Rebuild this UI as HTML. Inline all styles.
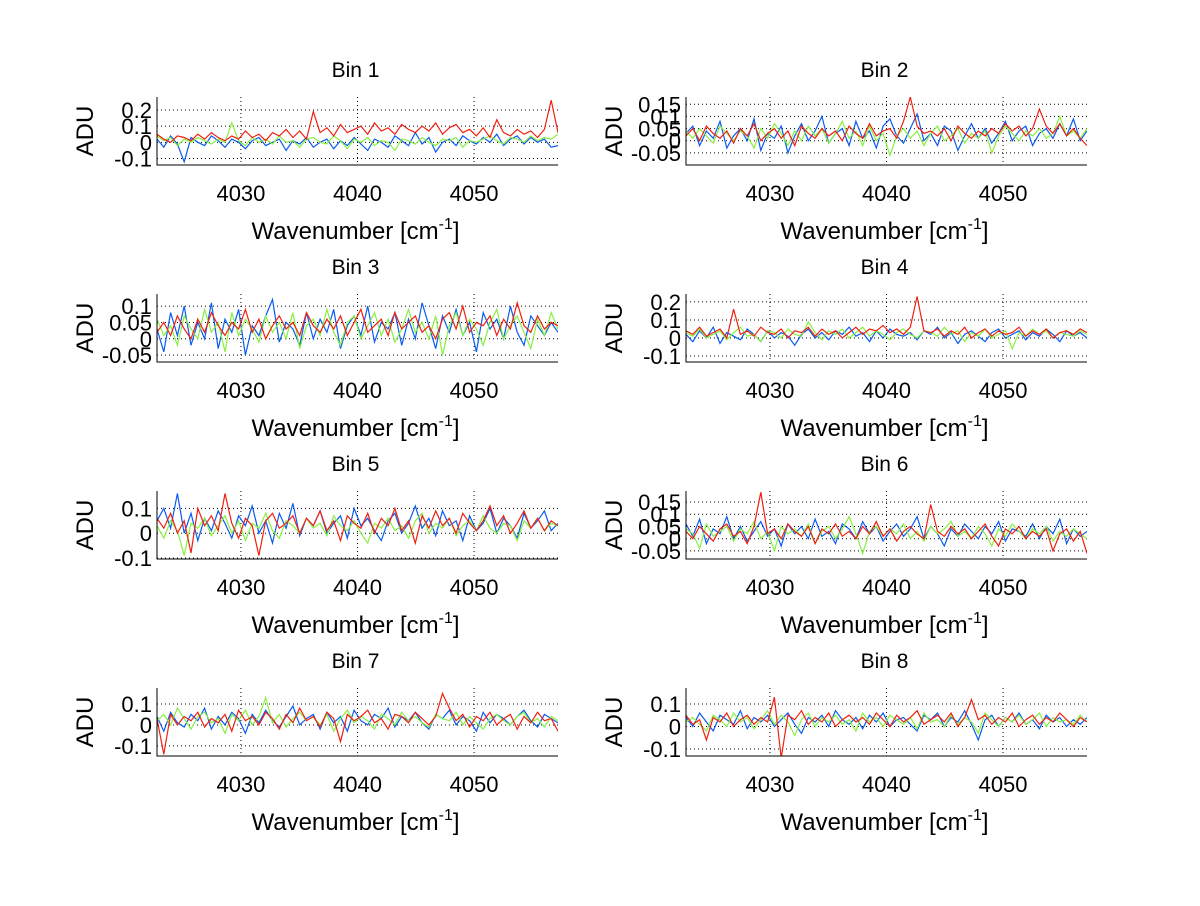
<!DOCTYPE html>
<html><head><meta charset="utf-8"><style>
body{margin:0;background:#fff}
svg text{font-family:"Liberation Sans",sans-serif;fill:#000}
</style></head><body>
<svg id="fig" width="1200" height="901" viewBox="0 0 1200 901" xmlns="http://www.w3.org/2000/svg"></svg>
<script>
const xDomain=[4022.8,4057.2];
const xTicks=[4030,4040,4050];
const binTitles=["Bin 1","Bin 2","Bin 3","Bin 4","Bin 5","Bin 6","Bin 7","Bin 8"];
const yLims=[[-0.14,0.28],[-0.10,0.18],[-0.071,0.137],[-0.133,0.244],[-0.104,0.17],[-0.083,0.195],[-0.148,0.176],[-0.131,0.171]];
const yTicks=[[0.2,0.1,0,-0.1],[0.15,0.1,0.05,0,-0.05],[0.1,0.05,0,-0.05],[0.2,0.1,0,-0.1],[0.1,0,-0.1],[0.15,0.1,0.05,0,-0.05],[0.1,0,-0.1],[0.1,0,-0.1]];
const seriesColors=["#0a5cf0","#88f040","#f02010"];
// values in hundredths of ADU; [bin][series blue,green,red]
const bin1Blue=[2,-3,4,-1,-12,3,0,-2,4,1,-3,2,0,-4,1,3,-2,0,2,-5,1,-1,3,-3,0,2,-4,1,-2,3,-1,-5,2,0,-3,4,1,-2,6,-1,3,-6,0,2,-2,4,1,-1,3,0,5,-2,2,4,-1,3,0,2,-3,-2];
const bin1Green=[4,1,3,-2,2,0,3,1,-1,2,0,12,1,-2,3,0,2,-1,4,0,1,-3,2,3,0,-1,4,1,-4,2,0,3,-2,1,0,-5,2,1,-1,3,0,-2,2,1,3,-3,1,0,2,4,1,-1,3,2,0,4,1,3,2,5];
const bin1Red=[5,2,0,4,3,1,5,2,6,3,1,4,2,7,3,5,1,6,4,8,3,7,2,19,6,9,4,11,6,8,10,5,12,7,9,5,11,8,6,10,7,12,5,9,11,6,8,4,9,3,14,6,4,8,5,7,3,8,26,6];
const bin2Blue=[3,6,-2,4,1,8,-3,2,5,0,9,-4,3,1,6,-5,2,7,0,4,10,-1,3,5,-2,8,1,4,-3,6,9,2,-1,5,11,0,3,-2,6,4,-4,2,7,1,5,-1,3,8,0,4,6,-2,3,5,1,7,2,9,0,4];
const bin2Green=[4,1,5,2,-1,6,3,0,4,2,-3,5,1,7,3,-2,4,0,6,2,5,-1,3,8,1,4,-2,6,0,3,-6,2,5,1,4,-2,3,6,0,2,5,-1,3,1,4,-5,2,6,3,0,4,2,5,1,3,10,2,4,1,5];
const bin2Red=[2,5,0,6,3,1,4,-1,5,2,7,0,3,5,1,4,-2,6,3,1,5,2,4,0,6,3,1,7,2,4,5,1,8,18,6,3,4,2,5,0,6,3,1,4,2,5,3,7,4,6,2,5,13,6,3,7,2,5,1,-2];
const bin3Blue=[3,-4,8,1,10,-2,5,0,11,-3,6,2,9,-5,4,1,7,12,-1,5,3,-2,8,0,6,2,9,-3,4,7,1,10,-1,5,3,8,-2,6,0,11,4,-3,7,2,9,1,5,-4,8,3,6,0,10,2,-2,7,4,1,5,2];
const bin3Green=[6,1,4,-2,7,3,0,9,2,5,-4,8,1,6,3,-1,7,2,5,0,8,-3,4,6,1,9,2,-2,5,7,0,4,8,1,6,-1,3,9,2,5,0,7,-5,4,8,1,6,3,-2,5,9,0,4,7,2,-3,6,1,8,3];
const bin3Red=[2,5,1,7,3,0,6,2,8,4,1,5,3,9,2,6,0,4,7,3,5,1,8,4,2,6,3,7,1,5,9,2,4,6,1,8,3,5,7,2,4,0,6,8,3,10,2,5,4,7,1,6,3,11,4,2,7,3,5,4];
const bin4Blue=[2,-2,4,0,6,-3,3,1,-1,5,2,-2,4,0,3,1,-4,2,5,0,3,-1,4,2,6,1,3,-2,4,0,5,2,1,3,-1,4,2,6,0,3,-3,2,4,1,-2,3,5,0,2,4,-1,3,1,5,2,-2,4,1,3,0];
const bin4Green=[3,1,5,0,2,4,-1,3,6,1,2,-2,4,3,0,5,2,1,9,3,-1,4,2,5,0,3,6,1,4,2,-1,3,5,2,0,4,3,1,6,2,4,-2,3,1,5,0,2,4,-6,3,1,5,2,4,0,3,2,1,4,2];
const bin4Red=[4,2,6,1,3,5,0,16,2,4,1,6,3,2,5,0,4,3,6,1,5,2,4,0,3,6,2,5,4,7,3,5,2,6,23,4,3,5,1,4,2,6,0,3,5,1,4,2,3,6,1,4,2,5,0,3,4,2,5,3];
const bin5Blue=[5,10,2,16,0,8,-3,6,1,9,4,-2,7,3,11,0,5,-4,8,2,12,-1,6,3,9,0,4,7,-2,10,3,6,1,-3,5,8,0,4,11,2,6,-1,9,3,5,-3,7,1,4,10,0,6,3,-2,8,2,5,9,1,4];
const bin5Green=[3,-2,5,1,-9,4,2,6,-1,3,7,0,5,-3,4,2,8,1,-2,5,3,0,6,2,4,-1,7,3,1,5,0,-4,4,2,6,1,3,-2,5,8,0,4,2,6,-1,3,5,1,7,2,0,4,3,-3,5,2,6,1,4,3];
const bin5Red=[6,2,8,0,5,-8,10,3,7,1,16,4,-2,6,3,-9,5,8,2,4,7,0,6,3,9,1,5,-3,7,4,2,8,0,6,3,10,1,5,-4,7,2,9,3,6,0,8,4,1,5,11,3,7,0,4,9,2,6,1,5,3];
const bin6Blue=[6,1,8,-2,4,2,9,0,5,-1,3,7,1,4,-3,6,2,5,0,8,1,3,-2,6,4,0,7,2,5,-1,3,6,1,4,9,0,5,2,-3,4,1,6,3,0,5,2,7,-1,4,3,1,6,0,5,2,8,-2,4,1,3];
const bin6Green=[4,2,-4,6,1,3,5,-1,4,2,7,0,3,-5,5,2,4,1,6,-2,3,5,0,4,9,2,-6,3,5,1,4,2,6,0,3,-1,5,2,4,7,1,3,0,5,2,-3,4,1,6,3,0,4,2,5,-1,3,1,4,2,0];
const bin6Red=[3,0,5,2,-1,4,6,1,3,-2,5,19,2,4,0,6,3,1,5,-2,4,2,6,1,3,0,5,2,7,1,4,-1,3,5,2,0,14,3,1,5,2,4,0,3,6,1,-3,4,2,5,0,3,1,4,-5,2,4,-1,3,-6];
const bin7Blue=[4,-3,6,1,-1,5,2,8,-2,4,0,6,3,-4,5,1,7,2,-1,4,9,0,3,5,-2,6,1,4,-3,7,2,0,5,3,8,-1,4,2,6,1,-2,5,3,7,0,4,2,-3,6,1,5,3,0,4,7,2,-1,5,3,1];
const bin7Green=[2,5,0,8,3,-2,4,6,1,3,-4,5,2,7,0,4,13,1,5,-1,3,6,2,4,0,5,-3,3,7,1,4,2,-2,5,3,0,6,2,4,1,-1,5,3,2,6,0,4,1,-2,3,5,2,0,4,6,1,3,-1,4,2];
const bin7Red=[3,-14,5,0,4,2,6,-1,3,1,5,-3,7,2,4,0,6,3,-2,5,1,8,2,4,-1,6,3,-8,5,2,4,7,1,3,-2,5,4,1,6,3,0,4,15,8,2,5,-1,4,2,6,0,3,5,-2,4,1,6,2,3,-3];
const bin8Blue=[4,0,6,2,-2,5,3,1,7,-1,4,2,5,0,3,6,1,-3,4,2,5,0,7,3,1,4,-1,5,2,6,0,3,4,1,-2,5,3,6,0,4,2,7,1,-6,3,5,0,4,2,6,1,3,-1,5,2,4,0,3,1,4];
const bin8Green=[2,4,1,-2,5,3,0,6,2,4,-1,3,7,1,5,2,-4,3,6,0,4,2,5,1,3,-2,6,2,4,0,5,3,1,4,-1,6,2,3,0,5,1,4,2,-3,6,3,0,4,2,5,1,3,6,0,4,2,3,1,5,2];
const bin8Red=[5,1,3,-6,4,2,6,0,3,5,1,4,2,13,-14,5,3,7,1,4,2,6,0,3,5,2,4,1,6,3,0,5,2,4,7,1,3,5,2,6,0,4,12,3,5,1,4,2,6,0,3,5,1,4,2,6,3,0,4,2];
const allBins=[[bin1Blue,bin1Green,bin1Red],[bin2Blue,bin2Green,bin2Red],[bin3Blue,bin3Green,bin3Red],[bin4Blue,bin4Green,bin4Red],[bin5Blue,bin5Green,bin5Red],[bin6Blue,bin6Green,bin6Red],[bin7Blue,bin7Green,bin7Red],[bin8Blue,bin8Green,bin8Red]];

const NS="http://www.w3.org/2000/svg";
const svg=document.getElementById('fig');
function mk(tag,attrs,parent){const e=document.createElementNS(NS,tag);for(const k in attrs)e.setAttribute(k,attrs[k]);(parent||svg).appendChild(e);return e;}
const colL=[157,686],colW=401,rowT=[97,294,491,688],plotH=68;
allBins.forEach((series,b)=>{
  const L=colL[b%2],T=rowT[Math.floor(b/2)],R=L+colW,B=T+plotH;
  const xs=v=>L+(v-xDomain[0])/(xDomain[1]-xDomain[0])*colW;
  const ys=v=>B-(v-yLims[b][0])/(yLims[b][1]-yLims[b][0])*plotH;
  const g=mk('g',{});
  
  
  const cp=mk('clipPath',{id:'cp'+b},g);mk('rect',{x:L,y:T,width:colW,height:plotH},cp);
  xTicks.forEach(t=>{const l=mk('line',{x1:xs(t),x2:xs(t),y1:T,y2:B,stroke:'#000','stroke-width':1,'stroke-dasharray':'1 3'},g);
    
    const tx=mk('text',{x:xs(t),y:B+36,'font-size':22,'text-anchor':'middle'},g);tx.textContent=t;
    });
  yTicks[b].forEach(t=>{const l=mk('line',{x1:L,x2:R,y1:ys(t),y2:ys(t),stroke:'#000','stroke-width':1,'stroke-dasharray':'1 3'},g);
    
    const tx=mk('text',{x:L-5,y:ys(t)+8,'font-size':22,'text-anchor':'end'},g);tx.textContent=t;
    });
  const lg=mk('g',{'clip-path':'url(#cp'+b+')'},g);
  series.forEach((vals,s)=>{
    const n=vals.length;
    const pts=vals.map((v,i)=>xs(xDomain[0]+i*(xDomain[1]-xDomain[0])/(n-1)).toFixed(1)+','+ys(v/100).toFixed(1)).join(' ');
    const p=mk('polyline',{points:pts,fill:'none',stroke:seriesColors[s],'stroke-width':1.2},lg);
    
    
  });
  const ax=mk('path',{d:`M${L},${T}V${B}H${R}`,fill:'none',stroke:'#000','stroke-width':1},g);
  
  const ti=mk('text',{x:L+colW/2-2,y:T-20,'font-size':21,'text-anchor':'middle'},g);ti.textContent=binTitles[b];
  
  const yl=mk('text',{x:0,y:0,'font-size':24,'text-anchor':'middle',transform:`translate(${L-64},${T+plotH/2}) rotate(-90)`},g);yl.textContent='ADU';
  
  const xl=mk('text',{x:L+colW/2-2,y:B+74,'font-size':24,'text-anchor':'middle'},g);
  
  xl.appendChild(document.createTextNode('Wavenumber [cm'));
  const sup=mk('tspan',{'font-size':16,dy:-10},xl);sup.textContent='-1';
  const cl=mk('tspan',{dy:10},xl);cl.textContent=']';
});
</script>
</body></html>
